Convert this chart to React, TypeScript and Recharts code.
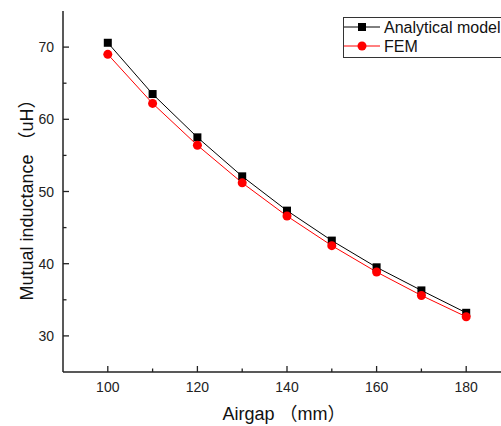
import React from "react";
import { LineChart, Line, XAxis, YAxis, Label } from "recharts";

const airgap = [100, 110, 120, 130, 140, 150, 160, 170, 180];
const analytical = [70.6, 63.5, 57.5, 52.1, 47.35, 43.2, 39.5, 36.3, 33.2];
const fem = [69.0, 62.2, 56.4, 51.2, 46.6, 42.5, 38.85, 35.6, 32.65];

const xTicks = [100, 110, 120, 130, 140, 150, 160, 170, 180];
const xLabels = [100, 120, 140, 160, 180];
const yTicks = [30, 35, 40, 45, 50, 55, 60, 65, 70];
const yLabels = [30, 40, 50, 60, 70];

const data = airgap.map((x, i) => ({ x, analytical: analytical[i], fem: fem[i] }));

const FONT = "'Liberation Sans', Arial, 'Noto Sans CJK SC', sans-serif";
const AXIS = "#222";

const XTick = (props: any) => {
  const { x, y, payload } = props;
  const major = xLabels.includes(payload.value);
  return (
    <g>
      <line x1={x} y1={y} x2={x} y2={y - (major ? 6 : 3.5)} stroke={AXIS} strokeWidth={1.3} />
      {major && (
        <text x={x} y={y + 20} textAnchor="middle" fontSize={14} fontFamily={FONT} fill="#222">
          {payload.value}
        </text>
      )}
    </g>
  );
};

const YTick = (props: any) => {
  const { x, y, payload } = props;
  const major = yLabels.includes(payload.value);
  return (
    <g>
      <line x1={x} y1={y} x2={x + (major ? 6 : 3.5)} y2={y} stroke={AXIS} strokeWidth={1.3} />
      {major && (
        <text x={x - 9} y={y + 5} textAnchor="end" fontSize={14} fontFamily={FONT} fill="#222">
          {payload.value}
        </text>
      )}
    </g>
  );
};

const Square = (props: any) => {
  const { cx, cy } = props;
  return <rect x={cx - 4} y={cy - 4} width={8} height={8} fill="#000" />;
};

const Dot = (props: any) => {
  const { cx, cy } = props;
  return <circle cx={cx} cy={cy} r={4.5} fill="#ff0000" />;
};

function ChartLegend() {
  return (
    <div
      style={{
        position: "absolute",
        left: 343,
        top: 17,
        width: 200,
        height: 39,
        border: "1px solid #333",
        background: "#fff",
        fontFamily: FONT,
        fontSize: 16,
        color: "#111",
      }}
    >
      {[
        { name: "Analytical model", color: "#000", square: true },
        { name: "FEM", color: "#ff0000", square: false },
      ].map((item, i) => (
        <div key={item.name} style={{ position: "absolute", left: 0, top: i === 0 ? 0 : 18.5, height: 19, width: 200 }}>
          <svg width={36} height={19} style={{ position: "absolute", left: 0, top: 0 }}>
            <line x1={0} y1={9} x2={36} y2={9} stroke={item.color} strokeWidth={1} />
            {item.square ? (
              <rect x={14} y={5} width={8} height={8} fill={item.color} />
            ) : (
              <circle cx={18} cy={9} r={4.5} fill={item.color} />
            )}
          </svg>
          <span style={{ position: "absolute", left: 40, top: 0, lineHeight: "19px", whiteSpace: "nowrap" }}>{item.name}</span>
        </div>
      ))}
    </div>
  );
}

export default function App() {
  return (
    <div style={{ position: "fixed", left: 0, top: 0, width: 501, height: 426, overflow: "hidden", background: "#fff" }}>
      <LineChart width={520} height={426} data={data} margin={{ top: 11, right: 9, left: 0, bottom: 0 }}>
        <XAxis
          dataKey="x"
          type="number"
          domain={[90, 190]}
          ticks={xTicks}
          tickSize={0}
          tickMargin={0}
          tick={<XTick />}
          height={54}
          stroke={AXIS}
          strokeWidth={1.5}
          interval={0}
        >
          <Label
            content={({ viewBox }: any) => (
              <text
                x={viewBox.x + viewBox.width / 2 - 3}
                y={viewBox.y + 48}
                textAnchor="middle"
                fontSize={18}
                fontFamily={FONT}
                fill="#111"
              >
                Airgap （mm）
              </text>
            )}
          />
        </XAxis>
        <XAxis xAxisId="top" orientation="top" dataKey="x" type="number" domain={[90, 190]} tick={false} tickLine={false} height={0} stroke={AXIS} strokeWidth={1.5} />
        <YAxis
          type="number"
          domain={[25, 75]}
          ticks={yTicks}
          tickSize={0}
          tickMargin={0}
          tick={<YTick />}
          width={63}
          stroke={AXIS}
          strokeWidth={1.5}
          interval={0}
        >
          <Label
            content={({ viewBox }: any) => {
              const cx = 27;
              const cy = viewBox.y + viewBox.height / 2 + 4;
              return (
                <text
                  x={cx}
                  y={cy}
                  transform={`rotate(-90, ${cx}, ${cy})`}
                  textAnchor="middle"
                  dominantBaseline="central"
                  fontSize={18}
                  fontFamily={FONT}
                  fill="#111"
                >
                  Mutual inductance （uH）
                </text>
              );
            }}
          />
        </YAxis>
        <Line dataKey="analytical" stroke="#000" strokeWidth={1} dot={<Square />} isAnimationActive={false} />
        <Line dataKey="fem" stroke="#ff0000" strokeWidth={1} dot={<Dot />} isAnimationActive={false} />
      </LineChart>
      <ChartLegend />
    </div>
  );
}
